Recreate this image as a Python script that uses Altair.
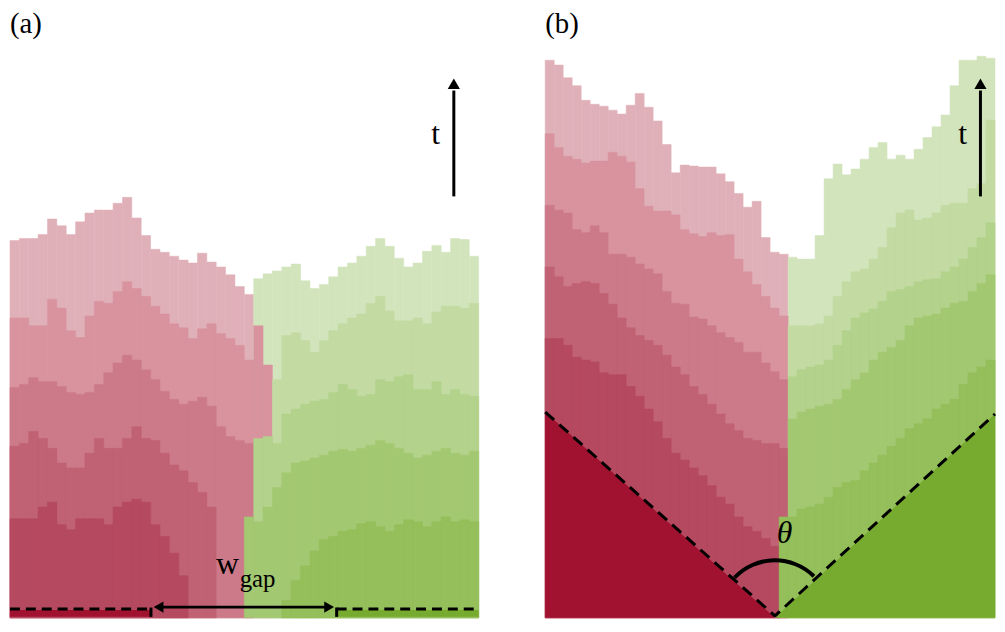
import altair as alt
import pandas as pd

# ---------------------------------------------------------------
# Data.
# Each front is given as the image row (px) of its top edge in each
# of 50 columns; the substrate baseline is image row 628, so a value
# of 628 means "no cell of that front in this column".
# The red grain occupies the first len(red) columns of a front,
# the green grain the remaining ones.
# Level 5 = latest (lightest) front, level 1 = earliest (darkest).
# ---------------------------------------------------------------
BASE_ROW = 628
N_COLS = 50

RED_SHADES = {5: "#e0b0b9", 4: "#d8939f", 3: "#cc7a89", 2: "#c06273", 1: "#b4495f"}
GREEN_SHADES = {5: "#d2e4bc", 4: "#c3dba2", 3: "#b3d28b", 2: "#a3c872", 1: "#94bf5a"}
RED_SUBSTRATE = "#a0122f"
GREEN_SUBSTRATE = "#77ab2f"

# ---- panel (a): flat substrate with a gap ----
A_RED_5 = [243, 241, 241, 237, 221, 228, 237, 224, 215, 212, 212, 205, 199, 220, 238, 252, 255, 259, 263, 266,
           256, 265, 270, 278, 290, 298]
A_GREEN_5 = [282, 277, 274, 270, 267, 284, 292, 288, 280, 270, 266, 259, 249, 241, 249, 261, 270, 266, 254, 248,
             255, 241, 242, 259]
A_RED_4 = [322, 322, 330, 330, 303, 312, 335, 342, 320, 305, 307, 295, 285, 292, 300, 310, 318, 328, 332, 343,
           333, 328, 338, 343, 350, 365, 330, 370]
A_GREEN_4 = [385, 340, 337, 345, 357, 345, 335, 328, 322, 318, 307, 300, 315, 325, 325, 322, 328, 316, 310, 310,
             312, 307]
A_RED_3 = [393, 390, 383, 387, 387, 392, 398, 400, 398, 390, 378, 368, 360, 365, 375, 385, 397, 405, 410, 407,
           403, 412, 433, 443, 447, 450]
A_GREEN_3 = [445, 443, 450, 420, 415, 410, 407, 405, 398, 390, 395, 402, 400, 385, 387, 382, 380, 395, 395, 387,
             400, 395, 400, 402]
A_RED_2 = [453, 450, 438, 445, 455, 470, 475, 475, 460, 445, 455, 455, 445, 433, 445, 447, 460, 472, 478, 490,
           500, 515, 628, 628, 628]
A_GREEN_2 = [525, 530, 515, 495, 480, 470, 468, 465, 462, 458, 456, 458, 455, 452, 447, 450, 455, 460, 465, 462,
             458, 455, 460, 462, 458]
A_RED_1 = [527, 527, 527, 515, 510, 533, 538, 527, 527, 527, 533, 515, 510, 507, 510, 533, 545, 562, 585]
A_GREEN_1 = [628, 628, 628, 628, 628, 628, 628, 628, 628, 628, 610, 590, 575, 560, 548, 545, 540, 538, 532, 530,
             535, 540, 533, 528, 530, 535, 530, 525, 530, 528, 530]

# ---- panel (b): V-shaped substrate ----
B_RED_5 = [59, 64, 77, 85, 100, 104, 106, 110, 114, 105, 93, 107, 121, 145, 174, 166, 167, 168, 168, 175,
           183, 195, 209, 203, 240, 255, 257]
B_GREEN_5 = [260, 262, 262, 238, 180, 165, 176, 170, 160, 148, 143, 160, 156, 160, 150, 138, 127, 115, 85, 59,
             59, 55, 57]
B_RED_4 = [134, 148, 157, 160, 164, 162, 162, 153, 157, 163, 190, 208, 213, 213, 217, 232, 236, 239, 235, 238,
           237, 262, 275, 288, 300, 312, 320]
B_GREEN_4 = [330, 330, 330, 328, 320, 300, 285, 275, 272, 262, 250, 230, 215, 212, 222, 220, 215, 207, 205, 205,
             190, 185, 120]
B_RED_3 = [207, 212, 215, 232, 235, 228, 235, 257, 257, 260, 267, 272, 277, 295, 307, 308, 321, 323, 330, 337,
           342, 347, 357, 357, 368, 377, 385]
B_GREEN_3 = [382, 375, 372, 370, 365, 350, 335, 322, 317, 313, 305, 295, 293, 290, 285, 283, 282, 275, 270, 262,
             250, 240, 225]
B_RED_2 = [270, 280, 290, 287, 285, 287, 297, 308, 322, 332, 340, 345, 350, 360, 372, 380, 392, 400, 410, 420,
           430, 437, 445, 447, 450, 450, 455]
B_GREEN_2 = [425, 418, 415, 412, 410, 405, 395, 385, 378, 365, 357, 352, 345, 330, 322, 320, 318, 312, 307,
             305, 295, 287, 278]
B_RED_1 = [343, 343, 350, 362, 365, 367, 378, 380, 380, 392, 402, 415, 428, 445, 460, 467, 475, 483, 493, 505,
           512, 525, 535, 540, 547, 555]
B_GREEN_1 = [525, 525, 517, 515, 512, 505, 495, 490, 488, 478, 470, 462, 453, 445, 435, 430, 425, 415, 410, 405,
             390, 378, 372, 365]

A_RED = {5: A_RED_5, 4: A_RED_4, 3: A_RED_3, 2: A_RED_2, 1: A_RED_1}
A_GREEN = {5: A_GREEN_5, 4: A_GREEN_4, 3: A_GREEN_3, 2: A_GREEN_2, 1: A_GREEN_1}
B_RED = {5: B_RED_5, 4: B_RED_4, 3: B_RED_3, 2: B_RED_2, 1: B_RED_1}
B_GREEN = {5: B_GREEN_5, 4: B_GREEN_4, 3: B_GREEN_3, 2: B_GREEN_2, 1: B_GREEN_1}

# substrate geometry (column units / height units above baseline)
A_SUB_RED = [0.0, 15.04]        # flat red substrate columns
A_SUB_GREEN = [34.85, 50.0]     # flat green substrate columns
A_SUB_TOP = 8
A_GAP_Y = 11
B_APEX_X = 25.54
B_LEFT_H = 210
B_RIGHT_H = 208

SERIF = "Liberation Serif, Times New Roman, DejaVu Serif, serif"
XS = alt.Scale(domain=[0, N_COLS], nice=False, zero=False)
YS = alt.Scale(domain=[0, 620], nice=False, zero=False)
PANEL_H = 612


def X(field):
    return alt.X(field, type="quantitative", scale=XS, axis=None)


def Y(field):
    return alt.Y(field, type="quantitative", scale=YS, axis=None)


def front_layers(red, green):
    layers = []
    for level in (5, 4, 3, 2, 1):
        tops = red[level] + green[level]
        n_red = len(red[level])
        rows = []
        for c, top in enumerate(tops):
            h = BASE_ROW - top
            if h <= 0:
                continue
            shade = RED_SHADES[level] if c < n_red else GREEN_SHADES[level]
            rows.append({"col": c, "col2": c + 1, "y0": 0, "h": h, "shade": shade})
        df = pd.DataFrame(rows)
        layers.append(
            alt.Chart(df).mark_rect(strokeWidth=0.5).encode(
                x=X("col"), x2="col2:Q", y=Y("y0"), y2="h:Q",
                fill=alt.Fill("shade:N", scale=None),
                stroke=alt.Stroke("shade:N", scale=None),
            )
        )
    return layers


def text_layer(x, y, label, size, align="center", style="normal"):
    df = pd.DataFrame({"x": [x], "y": [y], "t": [label]})
    return alt.Chart(df).mark_text(
        font=SERIF, fontSize=size, align=align, baseline="alphabetic",
        fontStyle=style, color="black",
    ).encode(x=X("x"), y=Y("y"), text="t:N")


def time_arrow(x):
    rule = alt.Chart(pd.DataFrame({"x": [x], "y": [430], "y2": [538]})).mark_rule(
        color="black", strokeWidth=3).encode(x=X("x"), y=Y("y"), y2="y2:Q")
    head = alt.Chart(pd.DataFrame({"x": [x], "y": [545]})).mark_point(
        shape="triangle-up", filled=True, size=150, color="black", opacity=1).encode(x=X("x"), y=Y("y"))
    return [rule, head]


# ------------------------- panel (a) -------------------------
strips = alt.Chart(pd.DataFrame({
    "x": [A_SUB_RED[0], A_SUB_GREEN[0]], "x2": [A_SUB_RED[1], A_SUB_GREEN[1]],
    "y": [1, 1], "y2": [A_SUB_TOP, A_SUB_TOP], "c": [RED_SUBSTRATE, GREEN_SUBSTRATE]})
).mark_rect().encode(x=X("x"), x2="x2:Q", y=Y("y"), y2="y2:Q", fill=alt.Fill("c:N", scale=None))

dashes_a = alt.Chart(pd.DataFrame({
    "x": [A_SUB_RED[0], A_SUB_GREEN[0]], "x2": [A_SUB_RED[1], A_SUB_GREEN[1]], "y": [9, 9]})
).mark_rule(color="black", strokeWidth=3, strokeDash=[10, 6]).encode(x=X("x"), x2="x2:Q", y=Y("y"))

ticks_a = alt.Chart(pd.DataFrame({
    "x": [A_SUB_RED[1], A_SUB_GREEN[0]], "y": [10.5, 10.5], "y2": [1, 1]})
).mark_rule(color="black", strokeWidth=3).encode(x=X("x"), y=Y("y"), y2="y2:Q")

gap_rule = alt.Chart(pd.DataFrame({"x": [16.3], "x2": [33.7], "y": [A_GAP_Y]})).mark_rule(
    color="black", strokeWidth=2.8).encode(x=X("x"), x2="x2:Q", y=Y("y"))
gap_heads = alt.Chart(pd.DataFrame({
    "x": [15.85, 34.05], "y": [A_GAP_Y, A_GAP_Y], "s": ["triangle-left", "triangle-right"]})
).mark_point(filled=True, size=130, color="black", opacity=1).encode(
    x=X("x"), y=Y("y"), shape=alt.Shape("s:N", scale=None))

panel_a = alt.layer(
    *front_layers(A_RED, A_GREEN),
    strips, dashes_a, ticks_a, gap_rule, gap_heads,
    *time_arrow(47.35),
    text_layer(45.4, 483, "t", 32),
    text_layer(0.0, 596.5, "(a)", 29, align="left"),
    text_layer(23.2, 45, "w", 32),
    text_layer(24.5, 31, "gap", 25, align="left"),
).properties(width=472, height=PANEL_H)

# ------------------------- panel (b) -------------------------
wedges = []
for xs_, hs_, col in (([0.0, B_APEX_X], [B_LEFT_H, 0], RED_SUBSTRATE),
                      ([B_APEX_X, float(N_COLS)], [0, B_RIGHT_H], GREEN_SUBSTRATE)):
    df = pd.DataFrame({"x": xs_, "y": hs_, "y0": [0, 0]})
    wedges.append(alt.Chart(df).mark_area(color=col, opacity=1, line=False).encode(
        x=X("x"), y=Y("y"), y2="y0:Q"))

dashes_b = alt.Chart(pd.DataFrame({
    "x": [0.0, B_APEX_X, float(N_COLS)], "y": [B_LEFT_H, 2, B_RIGHT_H], "o": [0, 1, 2]})
).mark_line(color="black", strokeWidth=3, strokeDash=[12, 7], strokeJoin="bevel").encode(
    x=X("x"), y=Y("y"), order="o:Q")

angle_arc = alt.Chart(pd.DataFrame({"x": [B_APEX_X], "y": [2]})).mark_arc(
    radius=58, radius2=54, theta=5.47, theta2=7.06, color="black").encode(x=X("x"), y=Y("y"))

panel_b = alt.layer(
    *front_layers(B_RED, B_GREEN),
    *wedges, dashes_b, angle_arc,
    *time_arrow(48.38),
    text_layer(46.4, 483, "t", 32),
    text_layer(0.0, 596.5, "(b)", 29, align="left"),
    text_layer(26.6, 76, "θ", 32, style="italic"),
).properties(width=453, height=PANEL_H)

chart = alt.hconcat(panel_a, panel_b, spacing=63).properties(padding=0).configure_view(stroke=None)

chart.save("out.html", embed_options={"renderer": "svg", "actions": False})
